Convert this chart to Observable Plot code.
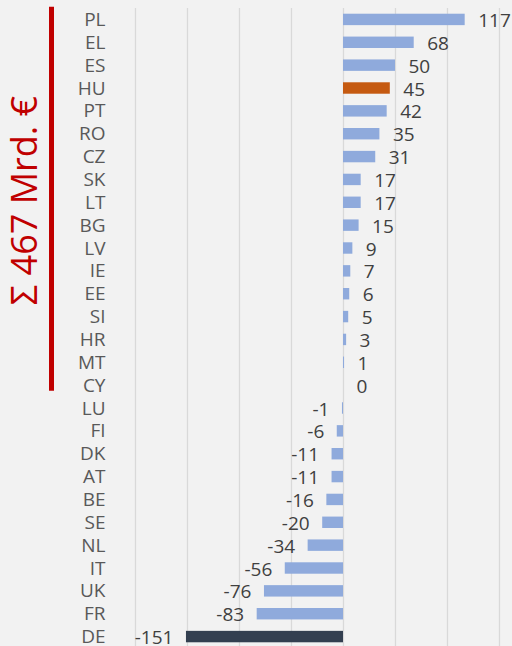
<!DOCTYPE html>
<html>
<head>
<meta charset="utf-8">
<script src="https://cdn.jsdelivr.net/npm/d3@7"></script>
<script src="https://cdn.jsdelivr.net/npm/@observablehq/plot@0.6"></script>
<style>
  html, body { margin: 0; padding: 0; background: #f2f2f2; overflow: hidden; }
  #chart svg { display: block; }
</style>
</head>
<body>
<div id="chart"></div>
<script>
const countries = ["PL","EL","ES","HU","PT","RO","CZ","SK","LT","BG","LV","IE","EE","SI","HR","MT","CY","LU","FI","DK","AT","BE","SE","NL","IT","UK","FR","DE"];
const values    = [117, 68, 50, 45, 42, 35, 31, 17, 17, 15, 9, 7, 6, 5, 3, 1, 0, -1, -6, -11, -11, -16, -20, -34, -56, -76, -83, -151];
const gridTicks = [-200, -150, -100, -50, 0, 50, 100, 150];
const sumLabel = ["Σ 467 Mrd. €"];
const bracketSpan = [{from: "PL", to: "CY"}];

const data = countries.map((c, i) => ({country: c, value: values[i]}));

const BLUE = "#8faadc", ORANGE = "#c55a11", NAVY = "#333f50", RED = "#c00000";
const barColor = d => d.country === "HU" ? ORANGE : d.country === "DE" ? NAVY : BLUE;

const ML = 135, MR = 13, W = 512;

const chart = Plot.plot({
  width: W,
  height: 648,
  marginTop: 8,
  marginBottom: 0,
  marginLeft: ML,
  marginRight: MR,
  style: {background: "#f2f2f2", fontFamily: "'Open Sans', sans-serif", fontSize: "19px", color: "#595959"},
  x: {domain: [-200, 150], axis: null},
  y: {domain: countries, paddingInner: 0.5, paddingOuter: 0.25, round: false, label: null},
  marks: [
    Plot.gridX(gridTicks, {stroke: "#d9d9d9", strokeOpacity: 1, strokeWidth: 1.3}),
    Plot.barX(data, {x: "value", y: "country", fill: barColor}),
    Plot.axisY({tickSize: 0, tickPadding: 30, fontSize: 19, label: null}),
    Plot.text(data.filter(d => d.value >= 0), {x: "value", y: "country", text: d => String(d.value), textAnchor: "start", dx: 13, dy: 1, fill: "#404040", fontSize: 19}),
    Plot.text(data.filter(d => d.value < 0), {x: "value", y: "country", text: d => String(d.value), textAnchor: "end", dx: -13, dy: 1, fill: "#404040", fontSize: 19}),
    Plot.ruleX(bracketSpan, {x: null, y1: "from", y2: "to", stroke: RED, strokeWidth: 5, insetTop: -7, dx: 51 - (ML + W - MR) / 2}),
    Plot.text(sumLabel, {text: d => d, frameAnchor: "left", textAnchor: "middle", rotate: -90, dx: -110, dy: -128, fill: RED, fontSize: 36})
  ]
});
document.getElementById("chart").append(chart);
</script>
</body>
</html>
